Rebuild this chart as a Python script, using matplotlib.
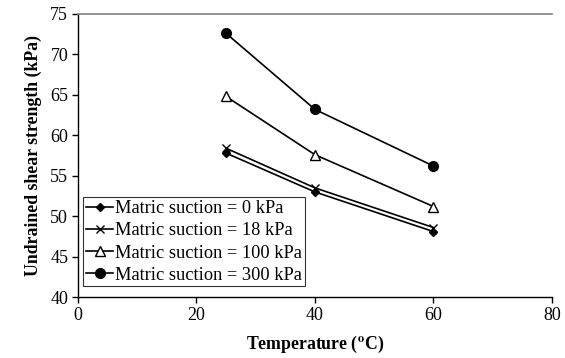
import matplotlib
matplotlib.use("Agg")
import matplotlib.pyplot as plt

# data
temperature = [25, 40, 60]
suction_0 = [57.8, 53.0, 48.1]
suction_18 = [58.4, 53.5, 48.6]
suction_100 = [64.8, 57.6, 51.2]
suction_300 = [72.6, 63.2, 56.2]
labels = ["Matric suction = 0 kPa", "Matric suction = 18 kPa",
          "Matric suction = 100 kPa", "Matric suction = 300 kPa"]

plt.rcParams['font.family'] = ['Liberation Serif', 'DejaVu Serif']
plt.rcParams['mathtext.fontset'] = 'stix'

fig = plt.figure(figsize=(5.65, 3.58), dpi=100)
ax = fig.add_axes([0.138, 0.170, 0.839, 0.791])

ax.plot(temperature, suction_0, color='k', lw=1.2, marker='D', ms=4.5,
        mfc='k', mec='k', label=labels[0])
ax.plot(temperature, suction_18, color='k', lw=1.2, marker='x', ms=6,
        mew=1.0, label=labels[1])
ax.plot(temperature, suction_100, color='k', lw=1.2, marker='^', ms=7,
        mfc='white', mec='k', mew=1.0, label=labels[2])
ax.plot(temperature, suction_300, color='k', lw=1.2, marker='o', ms=7,
        mfc='k', mec='k', label=labels[3])

ax.set_xlim(0, 80)
ax.set_ylim(40, 75)
ax.set_xticks([0, 20, 40, 60, 80])
ax.set_yticks(range(40, 80, 5))
ax.tick_params(direction='out', length=4, width=1, labelsize=13, pad=3)

ax.spines['right'].set_visible(False)
ax.spines['top'].set_color('#808080')
ax.spines['top'].set_linewidth(1.2)
ax.spines['left'].set_linewidth(1.0)
ax.spines['bottom'].set_linewidth(1.0)

ax.set_xlabel(r'Temperature ($^{\mathbf{o}}$C)', fontsize=12.8, fontweight='bold', labelpad=7)
ax.set_ylabel('Undrained shear strength (kPa)', fontsize=12.8, fontweight='bold', labelpad=6)

leg = ax.legend(loc='lower left', bbox_to_anchor=(0.003, 0.025), fontsize=13.2,
                frameon=True, fancybox=False, edgecolor='k', handlelength=1.5,
                handletextpad=0.1, borderpad=0.15, labelspacing=0.28,
                borderaxespad=0.2)
leg.get_frame().set_linewidth(0.8)

fig.savefig("out.png", dpi=100)
